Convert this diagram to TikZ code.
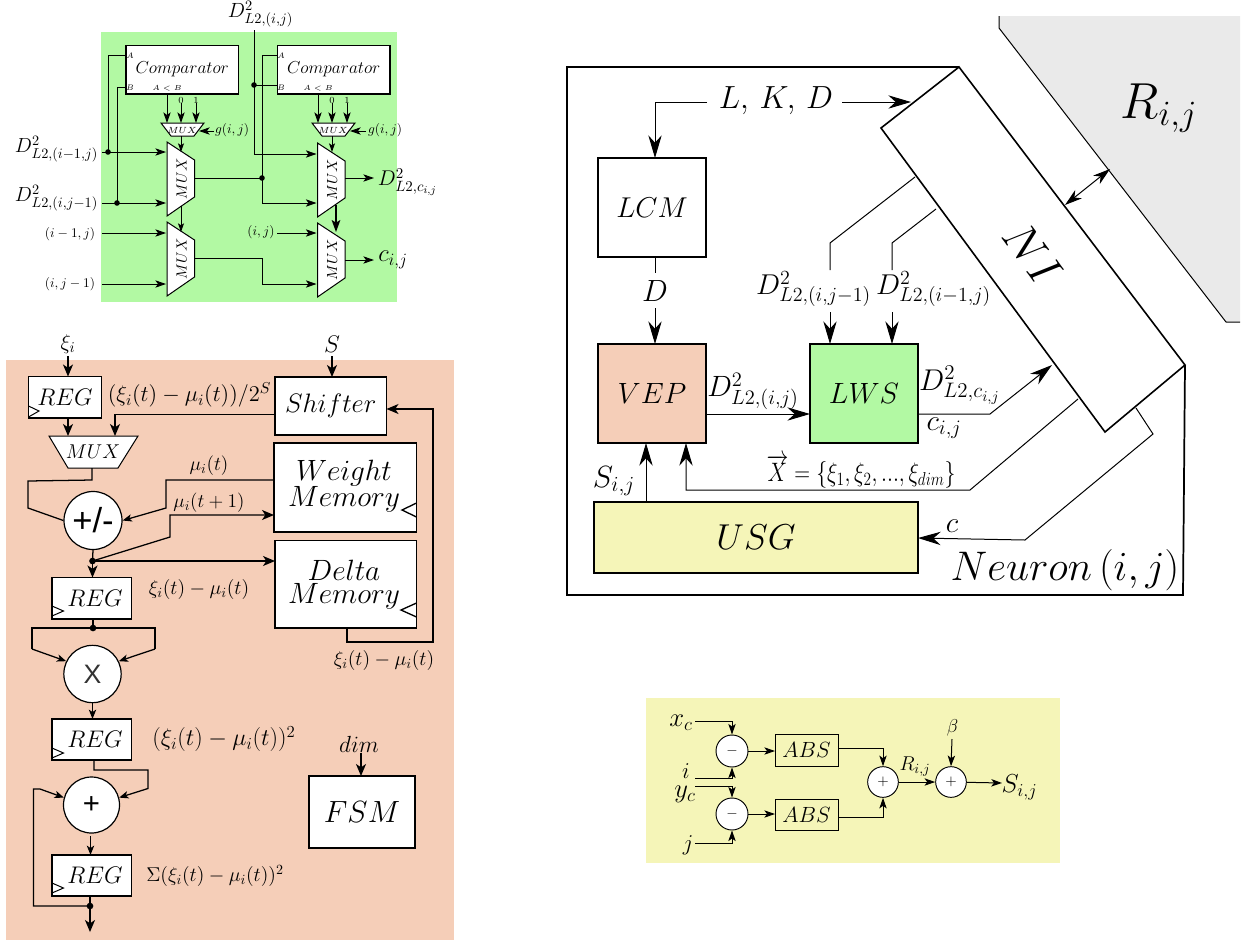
\RequirePackage{fix-cm}
\documentclass[tikz,border=0pt]{standalone}
\usepackage[no-math]{fontspec}
\newfontfamily\lsans{Liberation Sans}
\usetikzlibrary{arrows.meta,calc}
\definecolor{mygreen}{HTML}{B2F9A3}
\definecolor{myorange}{HTML}{F5CEB8}
\definecolor{myyellow}{HTML}{F5F5B8}
\definecolor{mygray}{HTML}{EAEAEA}
\newcommand{\mybox}[7][]{%
  \pgfmathsetmacro\bcx{(#3+#5)/2}\pgfmathsetmacro\bcy{(#4+#6)/2}%
  \node[draw,fill=white,line width=.8pt,inner sep=0pt,outer sep=0pt,
    minimum width={(#5-#3)*0.75pt},minimum height={(#6-#4)*0.75pt},#1] (#2) at (\bcx,\bcy) {#7};}
\newcommand{\bigmux}[3]{%
  \pgfmathsetmacro\mxa{#2+27.5}\pgfmathsetmacro\mxc{#2+14.5}%
  \pgfmathsetmacro\mya{#3+18}\pgfmathsetmacro\myb{#3+55}\pgfmathsetmacro\myc{#3+74}\pgfmathsetmacro\myd{#3+37}%
  \draw[line width=.75pt,fill=white] (#2,#3) -- (\mxa,\mya) -- (\mxa,\myb) -- (#2,\myc) -- cycle;
  \node[sz=11,rotate=90] (#1) at (\mxc,\myd) {$MUX$};}
\tikzset{
  sz/.style={font=\fontsize{#1}{#1}\selectfont,inner sep=0pt,outer sep=0pt},
  wire/.style={line width=.75pt},
  owire/.style={line width=.95pt},
  arw/.style={wire,-{Stealth[length=8pt,width=5.5pt,inset=2pt]}},
  sarw/.style={wire,-{Stealth[length=6.5pt,width=4.5pt,inset=1.5pt]}},
  oarw/.style={owire,-{Stealth[length=9pt,width=7.5pt,inset=2.5pt]}},
  osarw/.style={owire,-{Stealth[length=7pt,width=5.5pt,inset=1.8pt]}},
  barw/.style={line width=.75pt,-{Stealth[length=17pt,width=10pt,inset=5.5pt]}},
  dotn/.style={circle,fill=black,inner sep=0pt,minimum size=4.2pt},
  opc/.style={circle,draw,fill=white,line width=.9pt,inner sep=0pt,minimum size=#1},
}
\begin{document}
\begin{tikzpicture}[x=.75pt,y=-.75pt]
\useasboundingbox (0,0) rectangle (1250,940);
% backgrounds
\fill[mygreen] (101,32) rectangle (397,302);
\fill[myorange] (6,359.5) rectangle (453.5,940);
\fill[myyellow] (646,698) rectangle (1060,863);
%%%%%%%%%%%%%%% green block
\mybox{comp1}{126}{45.5}{238.5}{94}{\fontsize{13}{13}\selectfont$Comparator$}
\mybox{comp2}{277.5}{45.5}{390}{94}{\fontsize{13}{13}\selectfont$Comparator$}
\node[sz=6] (a1) at (130,56) {$A$};
\node[sz=6] (b1) at (130,88) {$B$};
\node[sz=5.5] (ab1) at (167,88) {$A<B$};
\node[sz=7] (z1) at (181,100) {$0$};
\node[sz=7] (o1) at (196,100) {$1$};
\node[sz=6] (a2) at (281,56) {$A$};
\node[sz=6] (b2) at (281,88) {$B$};
\node[sz=5.5] (ab2) at (318,88) {$A<B$};
\node[sz=7] (z2) at (332,100) {$0$};
\node[sz=7] (o2) at (347,100) {$1$};
\draw[line width=.75pt,fill=white] (161,123) -- (204,123) -- (194,136) -- (171,136) -- cycle;
\node[sz=6.7] (sm1) at (182,130) {$MUX$};
\draw[line width=.75pt,fill=white] (312,123) -- (355,123) -- (345,136) -- (322,136) -- cycle;
\node[sz=6.7] (sm2) at (333,130) {$MUX$};
\bigmux{m1}{167}{142}
\bigmux{m3}{167}{222}
\bigmux{m2}{317.5}{143}
\bigmux{m4}{317.5}{223}
\node[sz=15.3] (la) at (56.5,149) {$D^2_{L2,(i-1,j)}$};
\node[sz=15.3] (lb) at (56.5,198) {$D^2_{L2,(i,j-1)}$};
\node[sz=10] (lc) at (70,234) {$(i-1,j)$};
\node[sz=10] (ld) at (70,284) {$(i,j-1)$};
\node[sz=15.4] (le) at (260.5,14) {$D^2_{L2,(i,j)}$};
\node[sz=10] (lf) at (232,130) {$g(i,j)$};
\node[sz=10] (lg) at (385,130) {$g(i,j)$};
\node[sz=10] (lh) at (261,232) {$(i,j)$};
\node[sz=16] (li) at (407.5,182) {$D^2_{L2,c_{i,j}}$};
\node[sz=18.5] (lj) at (393,260) {$c_{i,j}$};
\node[dotn] (da) at (108,152) {};
\node[dotn] (db) at (117,203) {};
\node[dotn] (dc) at (254,85) {};
\node[dotn] (dd) at (262,178) {};
\coordinate (ina) at (102,152);
\coordinate (inb) at (102,203);
\coordinate (inc) at (102,233);
\coordinate (ind) at (102,284);
\coordinate (top) at (254,30);
\coordinate (m1a) at (166,152);
\coordinate (m1b) at (166,203);
\coordinate (m3a) at (166,233);
\coordinate (m3b) at (166,284);
\coordinate (m2a) at (316.5,154);
\coordinate (m2b) at (316.5,203);
\coordinate (m4a) at (316.5,233);
\coordinate (m4b) at (316.5,284);
\coordinate (m1o) at (194.5,178);
\coordinate (m3o) at (194.5,258);
\coordinate (m2o) at (345,178);
\coordinate (m4o) at (345,260);
\coordinate (lio) at (374,178);
\coordinate (ljo) at (374,260);
\coordinate (lho) at (277,233);
\coordinate (m1s) at (181,136);
\coordinate (m1t) at (181,152);
\coordinate (m2s) at (332,136);
\coordinate (m2t) at (332,152);
\coordinate (g1a) at (214,131);
\coordinate (g1b) at (199,131);
\coordinate (g2a) at (366,131);
\coordinate (g2b) at (350,131);
\draw[wire] (da.center) |- (comp1.west |- 0,55);
\draw[wire] (db.center) |- (comp1.west |- 0,87);
\draw[arw] (ina) -- (m1a);
\draw[arw] (inb) -- (m1b);
\draw[arw] (inc) -- (m3a);
\draw[arw] (ind) -- (m3b);
\draw[arw] (top) |- (m2a);
\draw[wire] (dc.center) -- (comp2.west |- dc);
\draw[wire] (comp2.west |- 0,55) -| (dd.center);
\draw[arw] (dd.center) |- (m2b);
\draw[wire] (m1o) -- (dd.center);
\draw[arw] (m3o) -| (262,284) -- (m4b);
\draw[arw] (m2o) -- (lio);
\draw[arw] (m4o) -- (ljo);
\draw[arw] (lho) -- (m4a);
\draw[arw] (167,0 |- comp1.south) -- (167,123);
\draw[arw] (z1) -- (181,123);
\draw[arw] (o1) -- (196,123);
\draw[arw] (318,0 |- comp2.south) -- (318,123);
\draw[arw] (z2) -- (332,123);
\draw[arw] (o2) -- (347,123);
\draw[sarw] (m1s) -- (m1t);
\draw[sarw] (m2s) -- (m2t);
\draw[arw] (g1a) -- (g1b);
\draw[arw] (g2a) -- (g2b);
\draw[sarw] (181,206) -- (181,232);
\draw[line width=.85pt,-{Stealth[length=9pt,width=6.5pt,inset=2pt]}] (336,205) -- (336,232);
%%%%%%%%%%%%%%% orange block
\mybox{reg1}{28.5}{376.5}{101.5}{418}{\fontsize{18}{18}\selectfont$REG$}
\mybox{shift}{275}{377}{386.5}{435}{\fontsize{20}{20}\selectfont$Shifter$}
\mybox{wmem}{274}{443}{416.5}{532}{}
\mybox{dmem}{275}{540.5}{416.5}{628}{}
\node[sz=22] (wt) at (344,473) {$Weight$};
\node[sz=22] (wm) at (344,499) {$Memory$};
\node[sz=22] (dt) at (344,570) {$Delta$};
\node[sz=22] (dm) at (344,596) {$Memory$};
\mybox{reg2}{52}{577.5}{131.5}{619}{\fontsize{18}{18}\selectfont$\;REG$}
\mybox{reg3}{52}{719}{131.5}{760}{\fontsize{18}{18}\selectfont$\;REG$}
\mybox{reg4}{52}{855}{131.5}{896}{\fontsize{18}{18}\selectfont$\;REG$}
\mybox{fsm}{309}{776}{415}{848}{\fontsize{23}{23}\selectfont$FSM$}
\draw[line width=.75pt,fill=white] (49,436) -- (138,436) -- (118,468) -- (68,468) -- cycle;
\node[sz=15] (omux) at (93,452) {$MUX$};
\node[opc=43.5pt,font=\lsans\fontsize{26}{26}\selectfont] (pm) at (93,520.5) {+/-};
\node[opc=43pt,font=\lsans\fontsize{20}{20}\selectfont,text=black!80] (mul) at (92.5,674) {X};
\node[opc=42pt,font=\lsans\fontsize{22}{22}\selectfont] (add) at (91.5,805) {+};
\draw[wire] (28.5,406) -- (39,411) -- (28.5,417);
\draw[wire] (52,606) -- (63.5,611) -- (52,616);
\draw[wire] (52,748) -- (63.5,753) -- (52,758);
\draw[wire] (52,883) -- (63.5,888) -- (52,893);
\draw[line width=1pt] (416.5,503) -- (402,510) -- (416.5,517);
\draw[line width=1pt] (416.5,603) -- (401,610) -- (416.5,617);
\node[sz=16] (t1) at (68,344) {$\xi_i$};
\node[sz=18] (t2) at (332,344) {$S$};
\node[sz=16.9] (t3) at (189.5,395) {$(\xi_i(t)-\mu_i(t))/2^S$};
\node[sz=14.7] (t4) at (209,466) {$\mu_i(t)$};
\node[sz=14.5] (t5) at (209,503) {$\mu_i(t+1)$};
\node[sz=15] (t6) at (199,589) {$\xi_i(t)-\mu_i(t)$};
\node[sz=15] (t7) at (384,660) {$\xi_i(t)-\mu_i(t)$};
\node[sz=18] (t8) at (224,739) {$(\xi_i(t)-\mu_i(t))^2$};
\node[sz=15] (t9) at (215,876) {$\Sigma(\xi_i(t)-\mu_i(t))^2$};
\node[sz=17.5] (t10) at (359,744) {$dim$};
\node[dotn,minimum size=5pt] (j1) at (92.5,561) {};
\node[dotn,minimum size=5pt] (j2) at (93,628) {};
\node[dotn,minimum size=5pt] (j3) at (90,906) {};
\coordinate (xiin) at (68,356);
\coordinate (sin) at (332,356);
\coordinate (dimin) at (361,753);
\coordinate (mo) at (92,468);
\coordinate (muxa) at (68,436);
\coordinate (muxb) at (115,436);
\coordinate (out) at (90,932);
\draw[oarw] (xiin) -- (68,0 |- reg1.north);
\draw[oarw] (sin) -- (332,0 |- shift.north);
\draw[oarw] (68,0 |- reg1.south) -- (muxa);
\draw[oarw] (shift.west |- 0,414.5) -| (muxb);
\draw[owire] (mo) -- (92,480) -- (28,481) -- (28,508) -- (pm.west);
\draw[osarw] (wmem.west |- 0,480) -- (166,480) -- (166,508) -- (pm.east);
\draw[oarw] (j1.center) -- (170,537) -- (170,515) -- (wmem.west |- 0,515);
\draw[oarw] (j1.center) -- (dmem.west |- j1);
\draw[owire] (pm.south) -- (j1.center);
\draw[oarw] (j1.center) -- (reg2.north -| j1);
\draw[owire] (reg2.south -| j2) -- (j2.center);
\draw[owire] (j2.center) -- (32,628) -- (32,649);
\draw[osarw] (32,649) -- (mul.154);
\draw[owire] (j2.center) -- (155,628) -- (155,649);
\draw[osarw] (155,649) -- (mul.26);
\draw[osarw] (mul.south) -- (mul.south |- reg3.north);
\draw[osarw] (94,0 |- reg3.south) -- (94,770) -- (148,770) -- (148,788.5) -- (add.15);
\draw[osarw] (j3.center) -- (33.5,906) -- (33.5,789) -- (40,789) -- (add.165);
\draw[osarw] (90.5,836) -- (90.5,0 |- reg4.north);
\draw[owire] (90,0 |- reg4.south) -- (j3.center);
\draw[oarw] (j3.center) -- (out);
\draw[oarw] (dimin) -- (361,0 |- fsm.north);
\draw[oarw] (347,0 |- dmem.south) -- (347,642) -- (433,642) -- (433,409) -- (shift.east |- 0,409);
%%%%%%%%%%%%%%% neuron block
\fill[mygray] (999,16) -- (999,28) -- (1226,322) -- (1240,322) -- (1240,16) -- cycle;
\draw[wire] (999,16) -- (999,28) -- (1226,322) -- (1240,322);
\draw[line width=1.3pt] (959,67) -- (567,67) -- (567,595) -- (1183,595) -- (1185,365);
\draw[line width=1.2pt,fill=white] (959,67) -- (881,128) -- (1105,432) -- (1185,365) -- cycle;
\mybox{lcm}{598}{158}{706}{257}{\fontsize{21.5}{22}\selectfont$LCM$}
\mybox[fill=myorange]{vep}{598}{344}{706}{443}{\fontsize{22}{22}\selectfont$VEP$}
\mybox[fill=mygreen]{lws}{810}{344}{918}{443}{\fontsize{22}{22}\selectfont$LWS$}
\mybox[fill=myyellow]{usg}{594}{502}{918}{573}{\fontsize{27}{27}\selectfont$USG$}
\node[sz=38] (r) at (1159,108) {$R_{i,j}$};
\node[sz=24] (lkd) at (776,101) {$L,\,K,\,D$};
\node[sz=23] (dd2) at (655,291) {$D$};
\node[sz=35,rotate=-54] (ni) at (1033,254) {$NI$};
\node[sz=21.5] (q1) at (813.5,289) {$D^2_{L2,(i,j-1)}$};
\node[sz=21.5] (q2) at (933.5,289) {$D^2_{L2,(i-1,j)}$};
\node[sz=22] (q3) at (753,391) {$D^2_{L2,(i,j)}$};
\node[sz=22.5] (q4) at (959.5,385) {$D^2_{L2,c_{i,j}}$};
\node[sz=22] (q5) at (944,428) {$c_{i,j}$};
\node[sz=20,xscale=.82,transform shape] (q6) at (861,471) {$\overrightarrow{X}=\{\xi_1,\xi_2,...,\xi_{dim}\}$};
\node[sz=23] (q7) at (614,481) {$S_{i,j}$};
\node[sz=22] (q8) at (952,526) {$c$};
\node[sz=31] (q9) at (1065,570) {$Neuron\,(i,j)$};
\coordinate (lkdl) at (707,102);
\coordinate (lkdr) at (842,102);
\coordinate (lkdt) at (911,102);
\coordinate (nia) at (1065,205);
\coordinate (rb) at (1110,169);
\coordinate (nib) at (915,177);
\coordinate (nic) at (936,209);
\coordinate (nid) at (1052,365);
\coordinate (nie) at (1078,399);
\coordinate (nif) at (1136,408);
\draw[barw] (lkdl) -- (655,102) -- (655,0 |- lcm.north);
\draw[barw] (lkdr) -- (lkdt);
\draw[wire,{Stealth[length=13pt,width=8pt,inset=4pt]}-{Stealth[length=13pt,width=8pt,inset=4pt]}] (nia) -- (rb);
\draw[wire] (655,0 |- lcm.south) -- (655,273);
\draw[barw] (655,308) -- (655,0 |- vep.north);
\draw[wire] (nib) -- (830,243) -- (830,270);
\draw[barw] (830,312) -- (830,0 |- lws.north);
\draw[wire] (nic) -- (892,243) -- (892,270);
\draw[barw] (892,312) -- (892,0 |- lws.north);
\draw[barw] (vep.east |- 0,414) -- (lws.west |- 0,414);
\draw[barw] (lws.east |- 0,414) -- (990,414) -- (nid);
\draw[barw] (nie) -- (970,490) -- (686,490) -- (686,0 |- vep.south);
\draw[barw] (646,0 |- usg.north) -- (646,0 |- vep.south);
\draw[barw] (nif) -- (1153,434) -- (1025,540) -- (usg.east |- 0,538);
%%%%%%%%%%%%%%% yellow block
\mybox[fill=myyellow,line width=.7pt]{abs1}{775}{734}{838}{766}{\fontsize{16.5}{17}\selectfont$ABS$}
\mybox[fill=myyellow,line width=.7pt]{abs2}{775}{799}{838}{830}{\fontsize{16.5}{17}\selectfont$ABS$}
\node[opc=24pt,line width=.7pt,font=\fontsize{11}{11}\selectfont] (s1) at (732,751) {$-$};
\node[opc=24pt,line width=.7pt,font=\fontsize{11}{11}\selectfont] (s2) at (732,814) {$-$};
\node[opc=23pt,line width=.7pt,font=\fontsize{11}{11}\selectfont] (p1) at (883,782) {$+$};
\node[opc=23pt,line width=.7pt,font=\fontsize{11}{11}\selectfont] (p2) at (951,782) {$+$};
\node[sz=20] (y1) at (681,723) {$x_c$};
\node[sz=17] (y2) at (686,771) {$i$};
\node[sz=20] (y3) at (685,794) {$y_c$};
\node[sz=17] (y4) at (688,845) {$j$};
\node[sz=15] (y5) at (915,767) {$R_{i,j}$};
\node[sz=14] (y6) at (952.5,728) {$\beta$};
\node[sz=19.5] (y7) at (1019.5,787) {$S_{i,j}$};
\coordinate (xc) at (695,721);
\coordinate (ic) at (695,778);
\coordinate (yc) at (695,786);
\coordinate (jc) at (695,843);
\coordinate (bt) at (952,739);
\coordinate (so) at (1002,783);
\draw[arw] (xc) -| (s1.north);
\draw[arw] (ic) -| (s1.south);
\draw[arw] (yc) -| (s2.north);
\draw[arw] (jc) -| (s2.south);
\draw[arw] (s1) -- (abs1.west |- s1);
\draw[arw] (s2.east) -- (abs2.west |- s2);
\draw[arw] (abs1.east |- 0,748) -| (p1.north);
\draw[arw] (abs2.east |- 0,817) -| (p1.south);
\draw[arw] (p1) -- (p2);
\draw[arw] (bt) -- (p2.north);
\draw[arw] (p2) -- (so);
\end{tikzpicture}
\end{document}
